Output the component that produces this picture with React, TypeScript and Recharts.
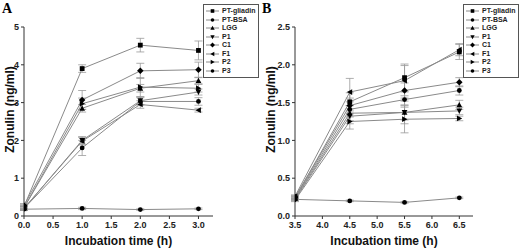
import React from "react";
import { LineChart, Line, XAxis, YAxis, ErrorBar, Legend } from "recharts";

// Panel A: 0–3 h
const timesA = [0, 1, 2, 3];
const gliadinA = [0.25, 3.9, 4.52, 4.38];
const bsaA = [0.18, 0.2, 0.17, 0.19];
const lggA = [0.22, 2.85, 3.38, 3.58];
const p1A = [0.2, 2.0, 3.05, 3.28];
const c1A = [0.28, 3.07, 3.84, 3.87];
const f1A = [0.2, 1.98, 2.95, 2.8];
const p2A = [0.22, 2.97, 3.41, 3.38];
const p3A = [0.2, 1.8, 3.03, 3.03];

const gliadinErrA = [0.05, 0.1, 0.18, 0.25];
const bsaErrA = [0.02, 0.03, 0.02, 0.02];
const lggErrA = [0.05, 0.1, 0.1, 0.08];
const p1ErrA = [0.05, 0.1, 0.1, 0.08];
const c1ErrA = [0.05, 0.25, 0.2, 0.2];
const f1ErrA = [0.05, 0.1, 0.1, 0.05];
const p2ErrA = [0.05, 0.15, 0.25, 0.1];
const p3ErrA = [0.05, 0.2, 0.1, 0.1];

// Panel B: 3.5–6.5 h
const timesB = [3.5, 4.5, 5.5, 6.5];
const gliadinB = [0.24, 1.51, 1.83, 2.17];
const bsaB = [0.22, 0.2, 0.18, 0.24];
const lggB = [0.23, 1.36, 1.37, 1.47];
const p1B = [0.22, 1.32, 1.37, 1.39];
const c1B = [0.25, 1.46, 1.66, 1.77];
const f1B = [0.26, 1.64, 1.79, 2.2];
const p2B = [0.21, 1.25, 1.28, 1.29];
const p3B = [0.24, 1.41, 1.54, 1.66];

const gliadinErrB = [0.02, 0.12, 0.18, 0.1];
const bsaErrB = [0.01, 0.01, 0.01, 0.01];
const lggErrB = [0.02, 0.1, 0.1, 0.06];
const p1ErrB = [0.02, 0.1, 0.15, 0.05];
const c1ErrB = [0.02, 0.1, 0.1, 0.06];
const f1ErrB = [0.02, 0.18, 0.2, 0.08];
const p2ErrB = [0.02, 0.1, 0.18, 0.03];
const p3ErrB = [0.02, 0.1, 0.1, 0.06];

const ticksA = [0, 0.5, 1, 1.5, 2, 2.5, 3];
const yTicksA = [0, 1, 2, 3, 4, 5];
const ticksB = [3.5, 4, 4.5, 5, 5.5, 6, 6.5];
const yTicksB = [0, 0.5, 1, 1.5, 2, 2.5];

const seriesNames = ["PT-gliadin", "PT-BSA", "LGG", "P1", "C1", "F1", "P2", "P3"];
const shapes = ["square", "circle", "up", "down", "diamond", "left", "right", "circle"];

const valuesA = [gliadinA, bsaA, lggA, p1A, c1A, f1A, p2A, p3A];
const errorsA = [gliadinErrA, bsaErrA, lggErrA, p1ErrA, c1ErrA, f1ErrA, p2ErrA, p3ErrA];
const valuesB = [gliadinB, bsaB, lggB, p1B, c1B, f1B, p2B, p3B];
const errorsB = [gliadinErrB, bsaErrB, lggErrB, p1ErrB, c1ErrB, f1ErrB, p2ErrB, p3ErrB];

const buildRows = (times: number[], values: number[][], errors: number[][]) =>
  times.map((t, i) => {
    const row: Record<string, number> = { t };
    values.forEach((v, s) => {
      row[`s${s}`] = v[i];
      row[`e${s}`] = errors[s][i];
    });
    return row;
  });

const dataA = buildRows(timesA, valuesA, errorsA);
const dataB = buildRows(timesB, valuesB, errorsB);

const FONT = "'Liberation Sans', Arial, sans-serif";
const LINE = "#8a8a8a";
const AXIS = "#333";

const Marker = ({ cx, cy, shape, r = 2.4 }: { cx: number; cy: number; shape: string; r?: number }) => {
  if (cx == null || cy == null) return null;
  switch (shape) {
    case "square":
      return <rect x={cx - r} y={cy - r} width={r * 2} height={r * 2} fill="#000" />;
    case "up":
      return <path d={`M${cx},${cy - r * 1.2}L${cx + r * 1.2},${cy + r}L${cx - r * 1.2},${cy + r}Z`} fill="#000" />;
    case "down":
      return <path d={`M${cx},${cy + r * 1.2}L${cx + r * 1.2},${cy - r}L${cx - r * 1.2},${cy - r}Z`} fill="#000" />;
    case "left":
      return <path d={`M${cx - r * 1.2},${cy}L${cx + r},${cy - r * 1.2}L${cx + r},${cy + r * 1.2}Z`} fill="#000" />;
    case "right":
      return <path d={`M${cx + r * 1.2},${cy}L${cx - r},${cy - r * 1.2}L${cx - r},${cy + r * 1.2}Z`} fill="#000" />;
    case "diamond":
      return <path d={`M${cx},${cy - r * 1.35}L${cx + r * 1.35},${cy}L${cx},${cy + r * 1.35}L${cx - r * 1.35},${cy}Z`} fill="#000" />;
    default:
      return <circle cx={cx} cy={cy} r={r} fill="#000" />;
  }
};

const LegendBox = () => (
  <div
    style={{
      border: "1px solid #555",
      background: "#fff",
      padding: "2px 2px",
      fontFamily: FONT,
      fontWeight: 700,
      fontSize: 7,
      lineHeight: "8.5px",
      color: "#222",
      whiteSpace: "nowrap",
      boxSizing: "border-box",
      width: 56,
    }}
  >
    {seriesNames.map((name, i) => (
      <div key={name} style={{ display: "flex", alignItems: "center", height: 8.5 }}>
        <svg width={13} height={8} style={{ marginRight: 3, flexShrink: 0 }}>
          <line x1={0} y1={4} x2={13} y2={4} stroke={LINE} strokeWidth={1} />
          <Marker cx={6.5} cy={4} shape={shapes[i]} r={1.8} />
        </svg>
        <span>{name}</span>
      </div>
    ))}
  </div>
);

type PanelProps = {
  data: Record<string, number>[];
  xDomain: [number, number];
  xTicks: number[];
  yDomain: [number, number];
  yTicks: number[];
  yWidth: number;
  yFormat: (v: number) => string;
  title: string;
  labelDx: number;
};

const Panel = ({ data, xDomain, xTicks, yDomain, yTicks, yWidth, yFormat, title, labelDx }: PanelProps) => (
  <div style={{ position: "relative", width: 260, height: 250 }}>
    <div
      style={{
        position: "absolute",
        left: 2,
        top: 1,
        fontFamily: "'Liberation Serif', 'Times New Roman', serif",
        fontWeight: 700,
        fontSize: 14,
      }}
    >
      {title}
    </div>
    <LineChart width={260} height={250} data={data} margin={{ top: 27, right: 47, bottom: 0, left: 0 }}>
      <XAxis
        dataKey="t"
        type="number"
        domain={xDomain}
        ticks={xTicks}
        tickFormatter={(v: number) => v.toFixed(1)}
        allowDataOverflow
        height={34}
        stroke={AXIS}
        tickSize={3}
        tickMargin={3}
        tick={{ fontSize: 9, fontWeight: 700, fill: "#222", fontFamily: FONT }}
        label={{
          value: "Incubation time (h)",
          position: "insideBottom",
          offset: 0,
          dy: -5,
          style: { fontSize: 12, fontWeight: 700, fill: "#111", fontFamily: FONT },
        }}
      />
      <YAxis
        type="number"
        domain={yDomain}
        ticks={yTicks}
        tickFormatter={yFormat}
        allowDataOverflow
        width={yWidth}
        stroke={AXIS}
        tickSize={3}
        tickMargin={2}
        tick={{ fontSize: 9, fontWeight: 700, fill: "#222", fontFamily: FONT }}
        label={{
          value: "Zonulin (ng/ml)",
          angle: -90,
          position: "center",
          dx: labelDx,
          dy: -12,
          style: { fontSize: 12, fontWeight: 700, fill: "#111", fontFamily: FONT, textAnchor: "middle" },
        }}
      />
      <Legend
        layout="horizontal"
        verticalAlign="middle"
        align="center"
        content={() => <LegendBox />}
        wrapperStyle={{ top: 4, left: 203, width: 56, height: "auto" }}
      />
      {seriesNames.map((name, s) => (
        <Line
          key={name}
          name={name}
          dataKey={`s${s}`}
          stroke={LINE}
          strokeWidth={1}
          type="linear"
          isAnimationActive={false}
          dot={(p: any) => (
            <g key={`${name}-${p.index}`}>
              <Marker cx={p.cx} cy={p.cy} shape={shapes[s]} />
            </g>
          )}
          activeDot={false}
        >
          <ErrorBar dataKey={`e${s}`} width={4} stroke="#999" strokeWidth={0.8} direction="y" />
        </Line>
      ))}
    </LineChart>
  </div>
);

export default function App() {
  return (
    <div style={{ position: "absolute", left: 0, top: 0, width: 520, height: 250, background: "#fff", display: "flex" }}>
      <Panel
        data={dataA}
        xDomain={[0, 3.25]}
        xTicks={ticksA}
        yDomain={[0, 5]}
        yTicks={yTicksA}
        yWidth={24}
        yFormat={(v) => String(v)}
        title="A"
        labelDx={-2}
      />
      <Panel
        data={dataB}
        xDomain={[3.5, 6.75]}
        xTicks={ticksB}
        yDomain={[0, 2.5]}
        yTicks={yTicksB}
        yWidth={35}
        yFormat={(v) => v.toFixed(1)}
        title="B"
        labelDx={-7}
      />
    </div>
  );
}
